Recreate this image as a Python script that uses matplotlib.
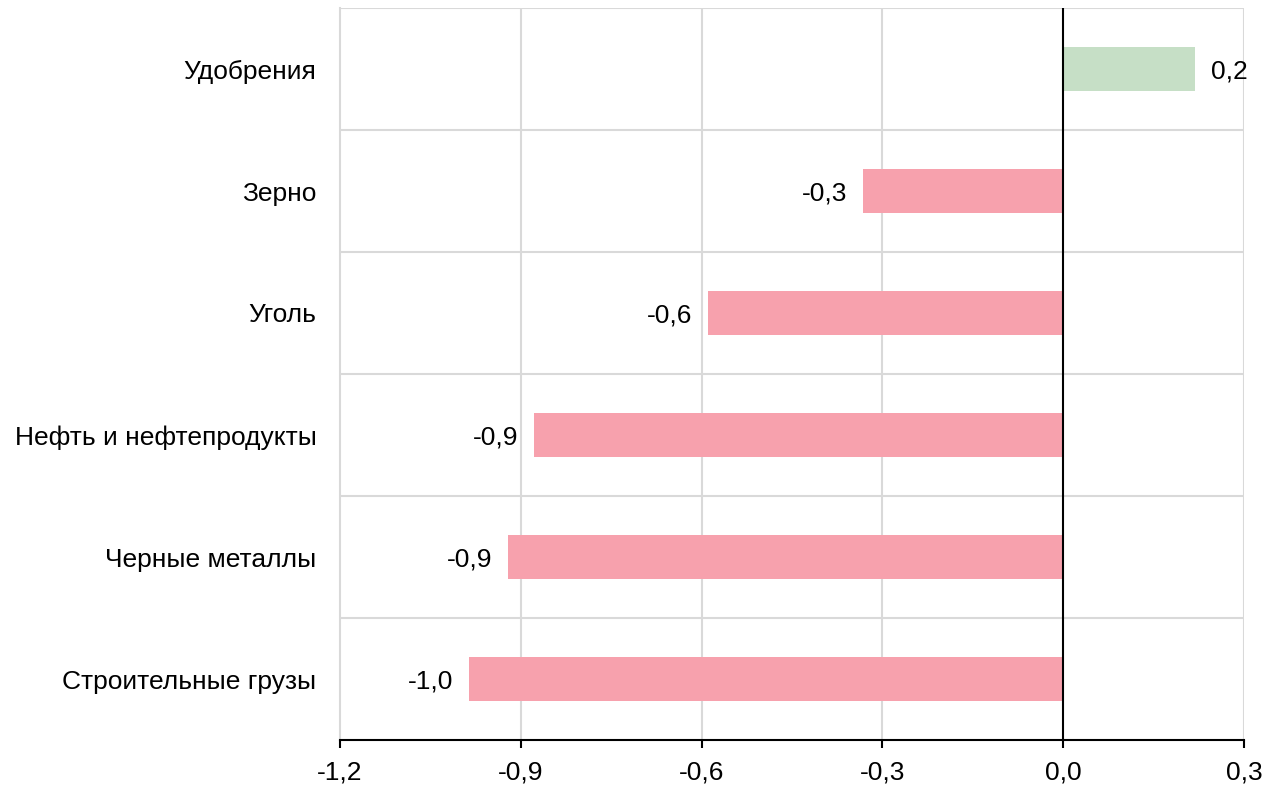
import matplotlib.pyplot as plt
import numpy as np

plt.rcParams['font.family'] = ['Liberation Sans', 'DejaVu Sans']

categories = ['Строительные грузы', 'Черные металлы', 'Нефть и нефтепродукты',
              'Уголь', 'Зерно', 'Удобрения']
values = [-0.986, -0.921, -0.878, -0.589, -0.332, 0.219]
xticks = [-1.2, -0.9, -0.6, -0.3, 0.0, 0.3]

fig = plt.figure(figsize=(12.75, 7.87), dpi=100)
ax = fig.add_axes([340 / 1275, 1 - 740 / 787, 904 / 1275, 732 / 787])

y = np.arange(len(categories))
colors = ['#c6dfc6' if v > 0 else '#f7a1ad' for v in values]
bars = ax.barh(y, values, height=0.36, color=colors, zorder=3)

labels = [f'{v:.1f}'.replace('.', ',') for v in values]
texts = ax.bar_label(bars, labels=labels, padding=11.5, fontsize=19)
for t in texts:
    t.set_va('center_baseline')

ax.set_xlim(-1.2, 0.3)
ax.set_ylim(-0.5, len(categories) - 0.5)

# сетка: вертикальные линии по делениям, горизонтальные между категориями
for t in xticks[1:]:
    if t != 0.0:
        ax.axvline(t, color='#d9d9d9', lw=1.5, zorder=1)
for b in np.arange(-0.5, len(categories), 1.0)[1:]:
    ax.axhline(b, color='#d9d9d9', lw=1.5, zorder=1)
ax.axvline(0, color='black', lw=1.5, zorder=4)

for s in ['top', 'right', 'left']:
    ax.spines[s].set_visible(False)
ax.plot([-1.2, -1.2], [-0.5, len(categories) - 0.5], color='#d9d9d9', lw=1.5,
        clip_on=False, zorder=1)
ax.spines['bottom'].set_linewidth(1.5)

ax.set_xticks(xticks)
ax.set_xticklabels([f'{t:.1f}'.replace('.', ',') for t in xticks], fontsize=19)
ax.tick_params(axis='x', length=6, width=1.5, pad=9)
ax.set_yticks(y)
ax.set_yticklabels(categories, fontsize=19, va='center_baseline')
ax.tick_params(axis='y', length=0, pad=17)

fig.savefig('out.png', dpi=100)
